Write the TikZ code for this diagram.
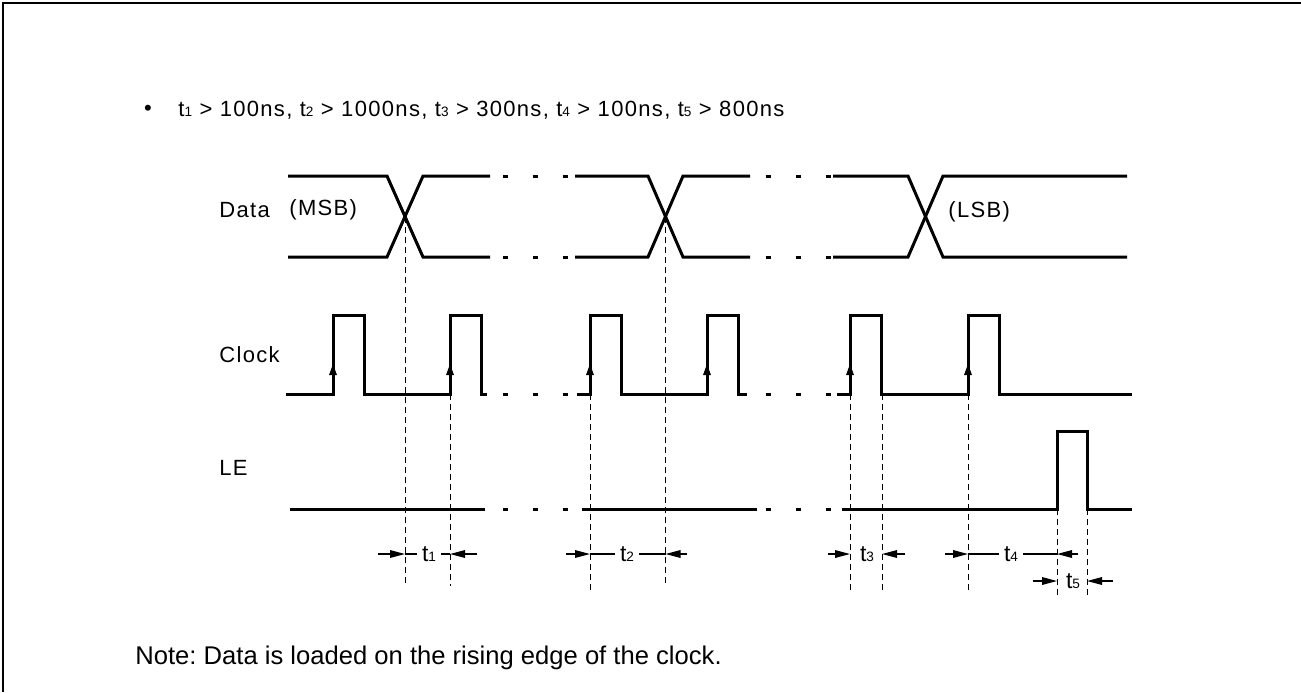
\documentclass[tikz,border=0pt]{standalone}
\usepackage{fontspec}
\setmainfont{Liberation Sans}
\usetikzlibrary{arrows.meta}
\frenchspacing
\newcommand{\tsub}[1]{t{\fontsize{6.8}{7}\selectfont #1}}
\begin{document}
\begin{tikzpicture}[x=0.5pt,y=-0.5pt,
  sig/.style={line width=1.5pt},
  guide/.style={line width=0.5pt,dash pattern=on 3pt off 2pt},
  dim/.style={line width=0.7pt},
  dimtip/.style={dim,-{Triangle[length=7.5pt,width=3.8pt]}},
  edgetip/.style={line width=0.6pt,-{Triangle[length=5.5pt,width=3.8pt]}},
  lbl/.style={inner sep=0pt,font=\fontsize{11}{13}\selectfont\addfontfeatures{LetterSpace=6}},
  dimlbl/.style={inner sep=2.5pt,font=\fontsize{11.5}{13}\selectfont}]
\useasboundingbox(0,0)rectangle(1301,692);
\draw[line width=1pt](3,692)--(3,3)--(1301,3);
\pgfmathsetmacro{\dhi}{176}
\pgfmathsetmacro{\dlo}{257}
\pgfmathsetmacro{\chi}{315}
\pgfmathsetmacro{\clo}{394}
\pgfmathsetmacro{\lhi}{431}
\pgfmathsetmacro{\llo}{509}
\pgfmathsetmacro{\pw}{31}
% header and labels
\node[lbl](bul)at(148,110){\textbullet};
\node[lbl,anchor=west](spec)at(178,110){\tsub{1} > 100ns, \tsub{2} > 1000ns, \tsub{3} > 300ns, \tsub{4} > 100ns, \tsub{5} > 800ns};
\node[lbl,anchor=west](data)at(219,210){Data};
\node[lbl,anchor=west](msb)at(289,210){(MSB)};
\node[lbl,anchor=west](lsb)at(948,212){(LSB)};
\node[lbl,anchor=west](clock)at(219,355){Clock};
\node[lbl,anchor=west](le)at(219,468){LE};
\node[anchor=west,inner sep=0pt,font=\fontsize{12.8}{15}\selectfont](note)at(135,658){Note: Data is loaded on the rising edge of the clock.};
% data
\foreach \a/\b/\c/\d in {288/387/423/490,575/648/683/750,833/908/943/1127}{
\draw[sig](\a,\dhi)--(\b,\dhi)--(\c,\dlo)--(\d,\dlo);
\draw[sig](\a,\dlo)--(\b,\dlo)--(\c,\dhi)--(\d,\dhi);
}
\coordinate(x1)at(405,217);
\coordinate(x2)at(665.5,217);
% clock
\draw[sig](286,\clo)--(333,\clo)--++(0,\chi-\clo)--++(\pw,0)--++(0,\clo-\chi)--(450,\clo)--++(0,\chi-\clo)--++(\pw,0)--++(0,\clo-\chi)--(487,\clo);
\draw[sig](577,\clo)--(590,\clo)--++(0,\chi-\clo)--++(\pw,0)--++(0,\clo-\chi)--(707,\clo)--++(0,\chi-\clo)--++(\pw,0)--++(0,\clo-\chi)--(747,\clo);
\draw[sig](837,\clo)--(850,\clo)--++(0,\chi-\clo)--++(\pw,0)--++(0,\clo-\chi)--(968,\clo)--++(0,\chi-\clo)--++(\pw,0)--++(0,\clo-\chi)--(1132,\clo);
\foreach \x in {333,450,590,707,850,968}{\draw[edgetip](\x,\clo)--++(0,-30);}
% LE
\draw[sig](290,\llo)--(485,\llo);
\draw[sig](582,\llo)--(757,\llo);
\draw[sig](842,\llo)--(1057,\llo)--++(0,\lhi-\llo)--++(30,0)--++(0,\llo-\lhi)--(1132,\llo);
% gaps
\foreach \y in {\dhi,\dlo,\clo,\llo}{
\foreach \x in {505,535,565,768,798,828}{\draw[sig](\x-2.5,\y)--++(5,0);}
}
% guides
\draw[guide](x1)--(405,583);
\draw[guide](x2)--(665.5,586);
\foreach \x/\e in {450/586,590/592,850/592,882/592,968/592}{\draw[guide](\x,\clo)--(\x,\e);}
\foreach \x in {1057,1087}{\draw[guide](\x,\llo)--(\x,595);}
% timings
\node[dimlbl](t1)at(429,554){\tsub{1}};
\draw[dimtip](378,554)--(405,554);\draw[dim](405,554)--(t1.west);
\draw[dim](t1.east)--(450,554);\draw[dimtip](477,554)--(450,554);
\node[dimlbl](t2)at(627,554){\tsub{2}};
\draw[dimtip](566,554)--(590,554);\draw[dim](590,554)--(t2.west);
\draw[dim](t2.east)--(665.5,554);\draw[dimtip](687,554)--(665.5,554);
\node[dimlbl](t3)at(867,554){\tsub{3}};
\draw[dimtip](828,554)--(850,554);\draw[dimtip](905,554)--(882,554);
\node[dimlbl](t4)at(1011,554){\tsub{4}};
\draw[dimtip](945,554)--(968,554);\draw[dim](968,554)--(t4.west);
\draw[dim](t4.east)--(1057,554);\draw[dimtip](1078,554)--(1057,554);
\node[dimlbl](t5)at(1073,581){\tsub{5}};
\draw[dimtip](1033,581)--(1057,581);\draw[dimtip](1113,581)--(1087,581);
\end{tikzpicture}
\end{document}
